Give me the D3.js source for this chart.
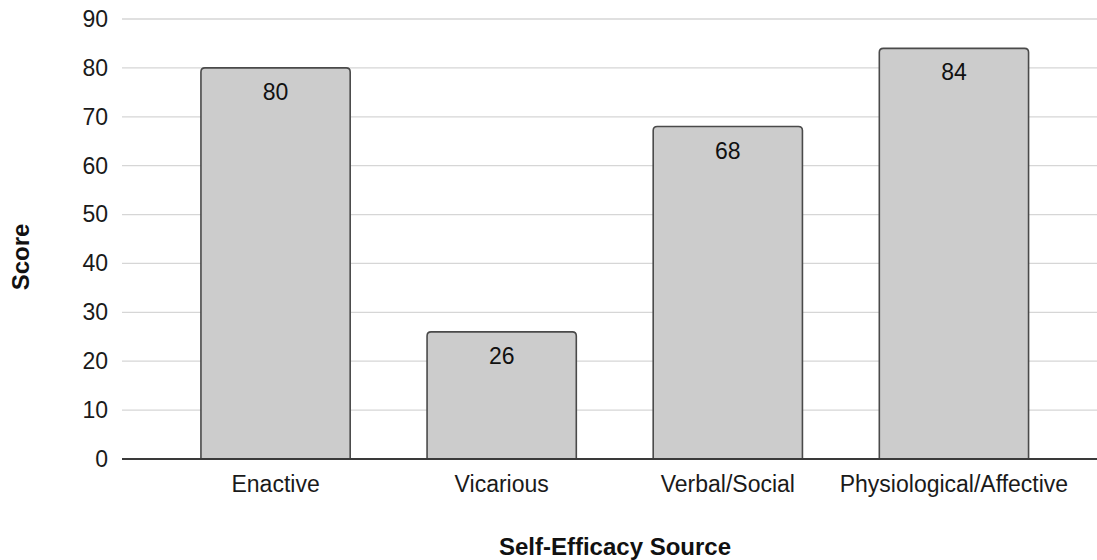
<!DOCTYPE html>
<html>
<head>
<meta charset="utf-8">
<script src="https://cdn.jsdelivr.net/npm/d3@7"></script>
<style>
  html, body { margin: 0; padding: 0; background: #fff; }
  svg { display: block; font-family: "Liberation Sans", Arial, sans-serif; }
</style>
</head>
<body>
<svg id="chart" width="1097" height="560"></svg>
<script>
const categories = ["Enactive", "Vicarious", "Verbal/Social", "Physiological/Affective"];
const scores = [80, 26, 68, 84];
const yTicks = [0, 10, 20, 30, 40, 50, 60, 70, 80, 90];
const xTitle = "Self-Efficacy Source";
const yTitle = "Score";

const W = 1097, H = 560;
const svg = d3.select("#chart");

const gridLeft = 122, gridRight = 1097;
const x = d3.scaleBand().domain(categories).range([162.5, 1067]).paddingInner(0.34).paddingOuter(0.17);
const y = d3.scaleLinear().domain([0, 90]).range([459, 19]);

// gridlines
svg.append("g").selectAll("line").data(yTicks.filter(t => t !== 0)).join("line")
  .attr("x1", gridLeft).attr("x2", gridRight)
  .attr("y1", d => y(d)).attr("y2", d => y(d))
  .attr("stroke", "#d6d6d6").attr("stroke-width", 1.3);

// y axis labels
const yAxis = d3.axisLeft(y).tickValues(yTicks).tickSize(0).tickPadding(14);
const gy = svg.append("g").attr("transform", `translate(${gridLeft},0)`).call(yAxis);
gy.select(".domain").remove();
gy.selectAll("text").attr("font-size", 23).attr("fill", "#1a1a1a")
  .attr("font-family", '"Liberation Sans", Arial, sans-serif');

// bars with rounded top corners
const r = 4;
function barPath(d, i) {
  const x0 = x(categories[i]), x1 = x0 + x.bandwidth();
  const yt = y(d), yb = y(0);
  return `M${x0},${yb} L${x0},${yt + r} Q${x0},${yt} ${x0 + r},${yt} L${x1 - r},${yt} Q${x1},${yt} ${x1},${yt + r} L${x1},${yb}`;
}
svg.append("g").selectAll("path").data(scores).join("path")
  .attr("d", (d, i) => barPath(d, i) + "Z")
  .attr("fill", "#cccccc").attr("stroke", "none");
svg.append("g").selectAll("path").data(scores).join("path")
  .attr("d", (d, i) => barPath(d, i))
  .attr("fill", "none").attr("stroke", "#4a4a4a").attr("stroke-width", 1.6);

// value labels
svg.append("g").selectAll("text").data(scores).join("text")
  .attr("x", (d, i) => x(categories[i]) + x.bandwidth() / 2)
  .attr("y", d => y(d) + 32)
  .attr("text-anchor", "middle").attr("font-size", 23).attr("fill", "#111")
  .text(d => d);

// x axis baseline + labels
const xAxis = d3.axisBottom(x).tickSize(0).tickPadding(17);
const gx = svg.append("g").attr("transform", `translate(0,${y(0)})`).call(xAxis);
gx.select(".domain").remove();
gx.selectAll("text").attr("font-size", 23).attr("fill", "#1a1a1a")
  .attr("font-family", '"Liberation Sans", Arial, sans-serif');
svg.append("line").attr("x1", gridLeft).attr("x2", gridRight)
  .attr("y1", y(0)).attr("y2", y(0))
  .attr("stroke", "#3a3a3a").attr("stroke-width", 2);

// titles
svg.append("text").attr("x", 615).attr("y", 555)
  .attr("text-anchor", "middle").attr("font-size", 24).attr("font-weight", "bold")
  .attr("fill", "#111").text(xTitle);
svg.append("text").attr("transform", "translate(29,257) rotate(-90)")
  .attr("text-anchor", "middle").attr("font-size", 24).attr("font-weight", "bold")
  .attr("fill", "#111").text(yTitle);
</script>
</body>
</html>
